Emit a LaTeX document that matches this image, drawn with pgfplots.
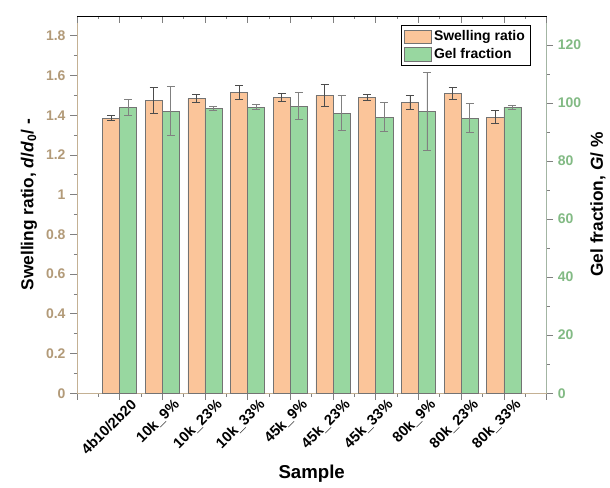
\documentclass[border=0pt]{standalone}
\usepackage{pgfplots}
\usepackage{pgfplotstable}
\pgfplotsset{compat=1.18}
\usepackage{fontspec}
\setmainfont{Liberation Sans}

\definecolor{barorange}{HTML}{FBC59A}
\definecolor{bargreen}{HTML}{98D7A0}
\definecolor{lefttick}{HTML}{B29A78}
\definecolor{righttick}{HTML}{82BA84}
\definecolor{leftline}{HTML}{C4B194}
\definecolor{rightline}{HTML}{A3B5A3}

% x  swelling  err   gel   err
\pgfplotstableread{
x sr sre gf gfe
0 1.385 0.013 98.6 2.7
1 1.475 0.067 97.2 8.4
2 1.485 0.020 98.2 0.7
3 1.515 0.033 98.6 0.8
4 1.490 0.020 98.9 4.6
5 1.500 0.056 96.5 6.0
6 1.490 0.016 95.1 5.0
7 1.465 0.037 97.1 13.5
8 1.510 0.030 94.8 5.0
9 1.390 0.033 98.6 0.7
}\datatable

\pgfplotsset{
  mylegend/.style={legend image code/.code={\draw[##1] (0pt,-5pt) rectangle (20pt,5pt);}},
  common/.style={
    scale only axis, width=353pt, height=283.5pt,
    xmin=-1, xmax=10,
    major tick length=5pt, minor tick length=2.5pt,
    tick style={line width=0.5pt},
    /pgf/number format/assume math mode=true,
  },
}

\begin{document}
\begin{tikzpicture}
\begin{axis}[common, name=ax,
    ymin=0, ymax=1.9,
    xtick={-1,0,...,10}, minor x tick num=1,
    xticklabels={,4b10/2b20,10k\_9\%,10k\_23\%,10k\_33\%,45k\_9\%,45k\_23\%,45k\_33\%,80k\_9\%,80k\_23\%,80k\_33\%,},
    xtick pos=lower, ytick pos=left, tick align=outside,
    ytick={0,0.2,0.4,0.6,0.8,1,1.2,1.4,1.6,1.8}, minor y tick num=1,
    yticklabel style={font=\bfseries\fontsize{10.5}{12}\selectfont, color=lefttick},
    xticklabel style={font=\bfseries\fontsize{11}{12}\selectfont, rotate=45, anchor=north east, xshift=10pt, yshift=-1pt},
    y axis line style={leftline},
    xlabel={Sample}, xlabel style={font=\bfseries\fontsize{14}{16}\selectfont, yshift=1pt},
    ylabel={Swelling ratio, \textit{d}/\textit{d}\textsubscript{0}/ -},
    ylabel style={font=\bfseries\fontsize{13}{15}\selectfont},
    legend style={at={(0.966,0.976)}, anchor=north east, draw=black, line width=0.6pt,
      font=\bfseries\fontsize{10.5}{12}\selectfont, inner sep=2pt, row sep=0pt,
      cells={anchor=west}},
  ]
  \addplot[ybar, bar width=0.4, bar shift=0, fill=barorange, draw=black!55, line width=0.5pt, mylegend,
    error bars/.cd, y dir=both, y explicit,
    error bar style={color=black!70, line width=0.6pt},
    error mark options={rotate=90, mark size=3pt, color=black!70, line width=0.6pt}]
    table[x expr=\thisrow{x}-0.2, y=sr, y error=sre] {\datatable};
  \addlegendentry{Swelling ratio}
  \addlegendimage{fill=bargreen, draw=black!55, line width=0.5pt, mylegend}
  \addlegendentry{Gel fraction}
\end{axis}

\begin{axis}[common,
    ymin=0, ymax=130,
    axis x line=none, axis y line*=right, tick align=outside,
    ytick={0,20,...,120}, minor y tick num=1,
    yticklabel style={font=\bfseries\fontsize{10.5}{12}\selectfont, color=righttick},
    y axis line style={rightline},
    ylabel={Gel fraction, \textit{G}/ \%},
    ylabel style={font=\bfseries\fontsize{13}{15}\selectfont},
  ]
  \addplot[ybar, bar width=0.4, bar shift=0, fill=bargreen, draw=black!55, line width=0.5pt,
    error bars/.cd, y dir=both, y explicit,
    error bar style={color=black!50, line width=0.6pt},
    error mark options={rotate=90, mark size=3pt, color=black!50, line width=0.6pt}]
    table[x expr=\thisrow{x}+0.2, y=gf, y error=gfe] {\datatable};
\end{axis}

\begin{axis}[common,
    ymin=0, ymax=1,
    axis y line=none, axis x line*=top, tick align=inside,
    xtick={-1,0,...,10}, minor x tick num=1, xticklabels={},
  ]
\end{axis}

\path ([xshift=-57.75pt,yshift=-69.75pt]ax.south west) rectangle ([xshift=46.5pt,yshift=12pt]ax.north east);
\end{tikzpicture}
\end{document}
